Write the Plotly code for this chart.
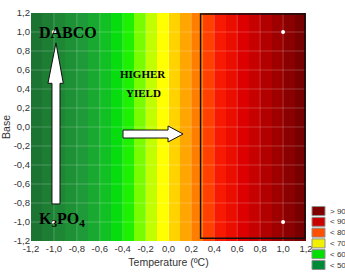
import plotly.graph_objects as go

# ---- data ----
temperature = [-1.15, -1.05, -0.95, -0.85, -0.75, -0.65, -0.55, -0.45, -0.35, -0.25, -0.15, -0.05,
               0.05, 0.15, 0.25, 0.35, 0.45, 0.55, 0.65, 0.75, 0.85, 0.95, 1.05, 1.15]
yield_by_temp = [42, 44, 46, 48, 50, 52, 55, 58, 61, 64, 67, 70,
                 73, 76, 79, 83, 86, 88, 90, 92, 94, 96, 98, 100]
base = [-1.2, -1.0, -0.8, -0.6, -0.4, -0.2, 0.0, 0.2, 0.4, 0.6, 0.8, 1.0, 1.2]
design_temp = [-1.0, 1.0, -1.0, 1.0]
design_base = [1.0, 1.0, -1.0, -1.0]
tick_vals = [-1.2, -1.0, -0.8, -0.6, -0.4, -0.2, 0.0, 0.2, 0.4, 0.6, 0.8, 1.0, 1.2]
tick_text = ["-1,2", "-1,0", "-0,8", "-0,6", "-0,4", "-0,2", "0,0", "0,2", "0,4", "0,6", "0,8", "1,0", "1,2"]
legend_labels = ["> 90", "< 90", "< 80", "< 70", "< 60", "< 50"]
legend_colors = ["#800000", "#c80000", "#ff5000", "#f0f000", "#00e000", "#008a35"]

z = [list(yield_by_temp) for _ in base]

colorscale = [
    [0.0, "#1a6a30"],
    [10/60, "#1f9a38"],
    [15/60, "#12c025"],
    [20/60, "#00ee00"],
    [25/60, "#98ff00"],
    [30/60, "#ffff00"],
    [35/60, "#ffb400"],
    [40/60, "#ff7000"],
    [45/60, "#ff2000"],
    [50/60, "#dc0000"],
    [55/60, "#a80000"],
    [1.0, "#780000"],
]

fig = go.Figure()
fig.add_trace(go.Heatmap(x=temperature, y=base, z=z, zmin=40, zmax=100,
                         colorscale=colorscale, showscale=False, zsmooth=False,
                         hoverinfo="skip"))
fig.add_trace(go.Scatter(x=design_temp, y=design_base, mode="markers",
                         marker=dict(color="white", size=4), showlegend=False))

shapes = []
# faint grid lines
for v in tick_vals[1:-1]:
    shapes.append(dict(type="line", xref="x", yref="y", x0=v, x1=v, y0=-1.2, y1=1.2,
                       line=dict(color="rgba(255,255,255,0.22)", width=1), layer="above"))
    shapes.append(dict(type="line", xref="x", yref="y", x0=-1.2, x1=1.2, y0=v, y1=v,
                       line=dict(color="rgba(255,255,255,0.22)", width=1), layer="above"))
# highlight rectangle
shapes.append(dict(type="rect", xref="x", yref="y", x0=0.28, x1=1.19, y0=-1.17, y1=1.19,
                   line=dict(color="#111", width=1.5), fillcolor="rgba(0,0,0,0)", layer="above"))
# vertical arrow
shapes.append(dict(type="path", xref="x", yref="y",
                   path="M -1.017 -0.81 L -0.947 -0.81 L -0.947 0.46 L -0.918 0.46 L -0.982 0.885 "
                        "L -1.052 0.46 L -1.017 0.46 Z",
                   fillcolor="white", line=dict(color="#111", width=1), layer="above"))
# horizontal arrow
shapes.append(dict(type="path", xref="x", yref="y",
                   path="M -0.397 -0.032 L -0.004 -0.032 L -0.004 0.011 L 0.127 -0.074 "
                        "L -0.004 -0.158 L -0.004 -0.116 L -0.397 -0.116 Z",
                   fillcolor="white", line=dict(color="#111", width=1), layer="above"))

annotations = [
    dict(x=-0.88, y=0.99, xref="x", yref="y", text="<b>DABCO</b>", showarrow=False,
         font=dict(family="Liberation Serif", size=16, color="black")),
    dict(x=-0.93, y=-0.975, xref="x", yref="y", text="<b>K<sub>3</sub>PO<sub>4</sub></b>", showarrow=False,
         font=dict(family="Liberation Serif", size=16, color="black")),
    dict(x=-0.222, y=0.56, xref="x", yref="y", text="<b>HIGHER</b>", showarrow=False,
         font=dict(family="Liberation Serif", size=11, color="black")),
    dict(x=-0.222, y=0.36, xref="x", yref="y", text="<b>YIELD</b>", showarrow=False,
         font=dict(family="Liberation Serif", size=11, color="black")),
]

# legend boxes (paper coords)
for i, (lab, col) in enumerate(zip(legend_labels, legend_colors)):
    cy = 211 + 10.8 * i
    y0 = (241 - (cy + 4.5)) / 228
    y1 = (241 - (cy - 4.5)) / 228
    shapes.append(dict(type="rect", xref="paper", yref="paper",
                       x0=(312 - 31) / 275, x1=(325 - 31) / 275, y0=y0, y1=y1,
                       fillcolor=col, line=dict(color="#909090", width=1)))
    annotations.append(dict(x=(328 - 31) / 275, y=(241 - cy) / 228, xref="paper", yref="paper",
                            text=lab, showarrow=False, xanchor="left", yanchor="middle",
                            font=dict(family="Liberation Sans", size=8, color="#333")))

fig.update_layout(
    width=345, height=274,
    margin=dict(l=31, r=39, t=13, b=33, autoexpand=False),
    paper_bgcolor="white", plot_bgcolor="white",
    shapes=shapes, annotations=annotations,
    font=dict(family="Liberation Sans", size=9.5, color="#333"),
    xaxis=dict(range=[-1.2, 1.2], tickvals=tick_vals, ticktext=tick_text, showgrid=False,
               zeroline=False, ticks="", ticklen=0, automargin=False,
               title=dict(text="Temperature (ºC)", font=dict(size=10.5, color="#333"), standoff=6)),
    yaxis=dict(range=[-1.2, 1.2], tickvals=tick_vals, ticktext=tick_text, showgrid=False,
               zeroline=False, ticks="", ticklen=0, automargin=False,
               title=dict(text="Base", font=dict(size=10.5, color="#333"), standoff=4)),
    showlegend=False,
)

fig.write_html("out.html", config={"displayModeBar": False},
               post_script="document.body.style.margin='0';document.body.style.overflow='hidden';")
